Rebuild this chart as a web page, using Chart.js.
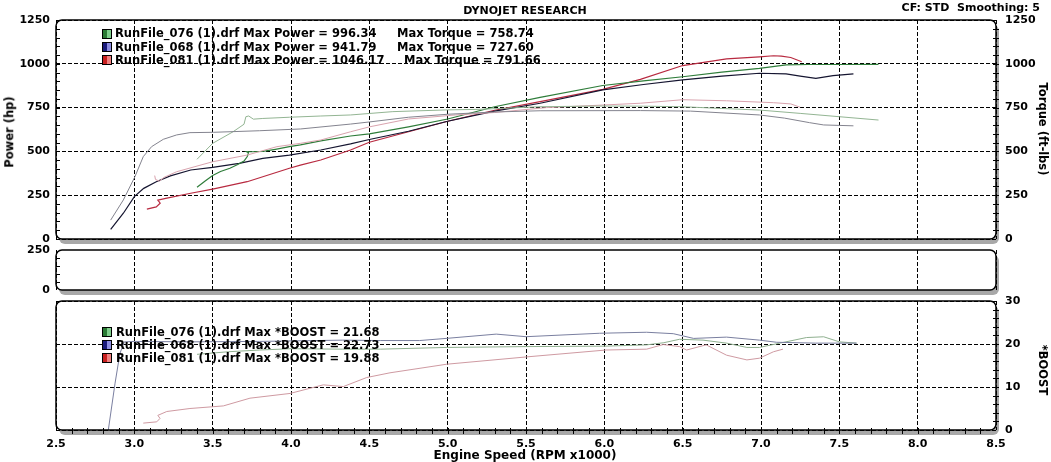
<!DOCTYPE html>
<html><head><meta charset="utf-8">
<script src="https://cdn.jsdelivr.net/npm/chart.js@4.4.1/dist/chart.umd.min.js"></script>
<style>
html,body{margin:0;padding:0;background:#fff;}
#wrap{position:relative;width:1051px;height:462px;overflow:hidden;font-family:'DejaVu Sans',Verdana,sans-serif;font-weight:bold;font-size:11px;color:#000;}
canvas{position:absolute;left:0;top:0;}
.t{position:absolute;white-space:pre;line-height:1;transform:translateY(-50%);z-index:5;}
.lg{font-size:11.5px;}
.c{transform:translate(-50%,-50%);}
.r90{transform:translate(-50%,-50%) rotate(90deg);}
.rm90{transform:translate(-50%,-50%) rotate(-90deg);}
.box{position:absolute;width:8px;height:8px;border:1px solid #000;z-index:5;}
</style></head><body>
<div id="wrap">
<canvas id="cA" width="1051" height="462"></canvas>
<canvas id="cB" width="1051" height="462"></canvas>
<canvas id="cC" width="1051" height="462"></canvas>

<div class="t c" style="left:525px;top:10px;">DYNOJET RESEARCH</div>
<div class="t" style="right:11px;top:7px;">CF: STD  Smoothing: 5</div>
<div class="t rm90" style="left:10px;top:132px;font-size:11.5px;">Power (hp)</div>
<div class="t r90" style="left:1042px;top:129px;font-size:11.5px;">Torque (ft-lbs)</div>
<div class="t r90" style="left:1042px;top:370px;font-size:11.5px;">*BOOST</div>
<div class="t c" style="left:525px;top:455px;font-size:12px;">Engine Speed (RPM x1000)</div>

<div class="box" style="left:102px;top:29px;background:linear-gradient(90deg,#2a7a34 50%,#7fcf8c 50%);"></div>
<div class="t lg" style="left:115px;top:34px;">RunFile_076 (1).drf Max Power = 996.34</div>
<div class="t lg" style="left:397px;top:34px;">Max Torque = 758.74</div>
<div class="box" style="left:102px;top:42px;background:linear-gradient(90deg,#1a1a7a 50%,#8c8ce0 50%);"></div>
<div class="t lg" style="left:115px;top:47.5px;">RunFile_068 (1).drf Max Power = 941.79</div>
<div class="t lg" style="left:397px;top:47.5px;">Max Torque = 727.60</div>
<div class="box" style="left:102px;top:55px;background:linear-gradient(90deg,#c82020 50%,#f08080 50%);"></div>
<div class="t lg" style="left:115px;top:60.5px;">RunFile_081 (1).drf Max Power = 1046.17</div>
<div class="t lg" style="left:404px;top:60.5px;">Max Torque = 791.66</div>

<div class="box" style="left:102px;top:327px;background:linear-gradient(90deg,#2a7a34 50%,#7fcf8c 50%);"></div>
<div class="t lg" style="left:116px;top:333px;">RunFile_076 (1).drf Max *BOOST = 21.68</div>
<div class="box" style="left:102px;top:340px;background:linear-gradient(90deg,#1a1a7a 50%,#8c8ce0 50%);"></div>
<div class="t lg" style="left:116px;top:346px;">RunFile_068 (1).drf Max *BOOST = 22.73</div>
<div class="box" style="left:102px;top:353px;background:linear-gradient(90deg,#c82020 50%,#f08080 50%);"></div>
<div class="t lg" style="left:116px;top:359px;">RunFile_081 (1).drf Max *BOOST = 19.88</div>
</div>

<script>
// ---------- DATA ----------
const xTicks = [2.5,3.0,3.5,4.0,4.5,5.0,5.5,6.0,6.5,7.0,7.5,8.0,8.5];
const powerTicks = [0,250,500,750,1000,1250];
const midTicks = [0,250];
const boostTicks = [0,10,20,30];

// RunFile_076 power (hp)
const rpmPow076 = [3.40,3.45,3.50,3.55,3.61,3.66,3.70,3.722,3.728,3.715,3.75,3.82,3.90,3.99,4.06,4.19,4.38,4.50,4.75,5.00,5.30,5.59,5.99,6.25,6.50,6.75,6.99,7.16,7.30,7.50,7.75];
const pow076 =    [295,330,362,385,404,425,445,472,492,499,498,500,512,527,537,560,588,600,640,685,755,808,876,902,926,952,974,994,996,996,997];
// RunFile_068 power
const rpmPow068 = [2.849,2.93,3.00,3.06,3.14,3.23,3.36,3.50,3.67,3.82,3.99,4.19,4.38,4.50,4.75,5.00,5.30,5.59,5.99,6.25,6.50,6.75,6.99,7.16,7.25,7.35,7.46,7.59];
const pow068 =    [55,147,242,289,327,360,394,409,432,460,479,508,543,568,615,672,730,775,851,882,908,930,946,942,930,917,932,942];
// RunFile_081 power
const rpmPow081 = [3.08,3.14,3.165,3.15,3.20,3.36,3.50,3.72,3.99,4.06,4.19,4.38,4.50,4.75,5.00,5.30,5.59,5.99,6.23,6.50,6.78,6.99,7.08,7.13,7.19,7.26];
const pow081 =    [171,183,205,222,232,261,285,327,404,422,451,508,552,612,672,735,784,854,911,990,1028,1040,1046,1044,1036,1012];
// Torque (ft-lbs)
const rpmTrq076 = [3.40,3.50,3.63,3.70,3.712,3.73,3.76,3.82,3.99,4.19,4.38,4.65,5.00,5.20,5.59,5.99,6.25,6.50,6.75,6.99,7.25,7.50,7.75];
const trq076 =    [455,546,612,655,698,702,684,688,695,702,708,727,737,740,755,759,758,755,745,736,717,698,679];
const rpmTrq068 = [2.849,2.93,3.004,3.057,3.11,3.185,3.27,3.355,3.504,3.80,4.06,4.38,4.50,4.75,5.00,5.30,5.59,6.23,6.55,6.99,7.15,7.31,7.40,7.59];
const trq068 =    [108,223,356,470,527,569,594,607,609,618,628,656,668,695,712,725,732,733,730,708,690,664,651,646];
const rpmTrq081 = [3.13,3.135,3.16,3.19,3.27,3.50,3.72,3.91,4.06,4.19,4.38,4.50,4.75,5.05,5.30,5.63,6.00,6.23,6.50,6.78,7.08,7.19,7.25];
const trq081 =    [362,340,330,352,384,441,479,527,546,565,612,640,685,708,722,750,765,775,795,789,778,771,752];
// Boost
const rpmBst076 = [3.40,3.60,3.80,4.00,4.33,4.57,4.99,5.50,6.01,6.27,6.38,6.48,6.63,6.78,6.91,6.99,7.12,7.29,7.40,7.50,7.61];
const bst076 =    [17.6,18.2,18.6,18.9,18.8,18.8,19.2,19.4,19.5,19.8,20.3,21.1,20.9,20.2,19.2,19.2,20.2,21.5,21.68,20.5,20.2];
const rpmBst068 = [2.834,2.877,2.908,2.936,3.00,3.355,3.80,4.33,4.57,4.82,4.99,5.31,5.50,5.97,6.27,6.44,6.57,6.78,6.99,7.10,7.35,7.61];
const bst068 =    [0,10.9,17.8,20.5,20.6,20.5,20.6,20.9,20.8,20.8,21.3,22.3,21.7,22.5,22.73,22.4,21.3,21.6,20.9,20.4,20.2,20.2];
const rpmBst081 = [3.057,3.143,3.164,3.15,3.207,3.355,3.568,3.738,3.994,4.206,4.334,4.483,4.632,4.994,5.504,6.01,6.27,6.376,6.48,6.525,6.65,6.78,6.91,6.99,7.08,7.14];
const bst081 =    [1.6,1.9,2.7,3.4,4.3,5.0,5.6,7.4,8.5,10.5,10.1,12.2,13.3,15.3,17.0,18.6,18.8,19.88,19.4,18.6,19.8,17.4,16.3,16.7,18.2,18.8];

// ---------- HELPERS ----------
const zip = (xs, ys) => xs.map((x, i) => ({x, y: ys[i]}));
const FONT = {family: "'DejaVu Sans', Verdana, sans-serif", weight: 'bold', size: 11};
const DASH = [4, 2];
function rr(ctx, x, y, w, h, r){
  ctx.beginPath();
  ctx.moveTo(x+r, y); ctx.lineTo(x+w-r, y); ctx.arcTo(x+w, y, x+w, y+r, r);
  ctx.lineTo(x+w, y+h-r); ctx.arcTo(x+w, y+h, x+w-r, y+h, r);
  ctx.lineTo(x+r, y+h); ctx.arcTo(x, y+h, x, y+h-r, r);
  ctx.lineTo(x, y+r); ctx.arcTo(x, y, x+r, y, r); ctx.closePath();
}
const frame = {
  id: 'frame',
  beforeDraw(chart){
    const {ctx, chartArea: a} = chart;
    const w = a.right - a.left, h = a.bottom - a.top;
    ctx.save();
    ctx.fillStyle = '#a8a8a8'; rr(ctx, a.left + 3, a.top + 5, w, h, 6); ctx.fill();
    ctx.fillStyle = '#ffffff'; rr(ctx, a.left, a.top, w, h, 6); ctx.fill();
    ctx.restore();
  },
  afterDraw(chart, args, o){
    const {ctx, chartArea: a} = chart;
    ctx.save();
    ctx.strokeStyle = '#000'; ctx.lineWidth = 1.5;
    rr(ctx, a.left, a.top, a.right - a.left, a.bottom - a.top, 6); ctx.stroke();
    ctx.lineWidth = 1;
    ctx.beginPath();
    const vt = (spec, x0, x1) => {
      const s = chart.scales[spec.axis];
      const n = Math.round((s.max - s.min) / spec.step);
      for (let i = 1; i < n; i++) {
        const p = Math.round(s.getPixelForValue(s.min + i * spec.step)) + 0.5;
        ctx.moveTo(x0, p); ctx.lineTo(x1, p);
      }
    };
    if (o.left) vt(o.left, a.left, a.left + 4);
    if (o.right) vt(o.right, a.right - 3, a.right + 3);
    if (o.bottom) {
      const s = chart.scales[o.bottom.axis];
      const n = Math.round((s.max - s.min) / o.bottom.step);
      for (let i = 1; i < n; i++) {
        const p = Math.round(s.getPixelForValue(s.min + i * o.bottom.step)) + 0.5;
        ctx.moveTo(p, a.bottom - 2); ctx.lineTo(p, a.bottom + 4);
      }
    }
    ctx.stroke();
    ctx.restore();
  }
};
const ds = (data, color, w, yAxisID) => ({data, borderColor: color, borderWidth: w, showLine: true, pointRadius: 0, fill: false, yAxisID: yAxisID || 'y'});
const xAxis = (showLabels, h) => ({
  type: 'linear', min: 2.5, max: 8.5,
  afterBuildTicks: s => { s.ticks = xTicks.map(v => ({value: v})); },
  grid: {color: '#000', lineWidth: 1, drawTicks: false, borderDash: DASH},
  border: {display: false, dash: DASH},
  ticks: {display: showLabels, font: FONT, color: '#000', padding: 8, maxRotation: 0, autoSkip: false, callback: v => Number(v).toFixed(1)},
  afterFit: s => { s.height = h; }
});
const yAxis = (pos, ticks, showLabels, showGrid, w, pad) => ({
  type: 'linear', position: pos, min: ticks[0], max: ticks[ticks.length - 1],
  afterBuildTicks: s => { s.ticks = ticks.map(v => ({value: v})); },
  grid: {display: showGrid, color: '#000', lineWidth: 1, drawTicks: false, drawOnChartArea: showGrid, borderDash: DASH},
  border: {display: false, dash: DASH},
  ticks: {display: showLabels, font: FONT, color: '#000', padding: pad, callback: v => String(v)},
  afterFit: s => { s.width = w; }
});
const base = (padding, scales, frameOpts, datasets) => ({
  type: 'scatter',
  data: {datasets},
  options: {
    responsive: false, animation: false, devicePixelRatio: 1,
    layout: {padding},
    scales,
    plugins: {legend: {display: false}, tooltip: {enabled: false}, frame: frameOpts}
  },
  plugins: [frame]
});

// ---------- TOP PANEL: power & torque ----------
new Chart(document.getElementById('cA'), base(
  {left: 0, right: 0, top: 20, bottom: 223},
  {x: xAxis(false, 0), y: yAxis('left', powerTicks, true, true, 56, 6), y2: yAxis('right', powerTicks, true, false, 55, 9)},
  {left: {axis: 'y', step: 50}, right: {axis: 'y2', step: 50}},
  [
    ds(zip(rpmTrq068, trq068), '#84848f', 1),
    ds(zip(rpmTrq076, trq076), '#93b593', 1),
    ds(zip(rpmTrq081, trq081), '#d9a3ae', 1),
    ds(zip(rpmPow076, pow076), '#2f7d3a', 1.2),
    ds(zip(rpmPow068, pow068), '#151530', 1.2),
    ds(zip(rpmPow081, pow081), '#b82a40', 1.2)
  ]
));

// ---------- MIDDLE PANEL (empty) ----------
new Chart(document.getElementById('cB'), base(
  {left: 0, right: 55, top: 250, bottom: 172},
  {x: xAxis(false, 0), y: yAxis('left', midTicks, true, false, 56, 6)},
  {left: {axis: 'y', step: 50}},
  []
));

// ---------- BOTTOM PANEL: boost ----------
new Chart(document.getElementById('cC'), base(
  {left: 0, right: 0, top: 301, bottom: 0},
  {x: xAxis(true, 32), y: yAxis('left', boostTicks, false, true, 56, 6), y2: yAxis('right', boostTicks, true, false, 55, 9)},
  {right: {axis: 'y2', step: 2}, bottom: {axis: 'x', step: 0.1}},
  [
    ds(zip(rpmBst068, bst068), '#7a7fa0', 1),
    ds(zip(rpmBst076, bst076), '#8fb08f', 1),
    ds(zip(rpmBst081, bst081), '#cf9aa2', 1)
  ]
));
</script>
</body></html>
